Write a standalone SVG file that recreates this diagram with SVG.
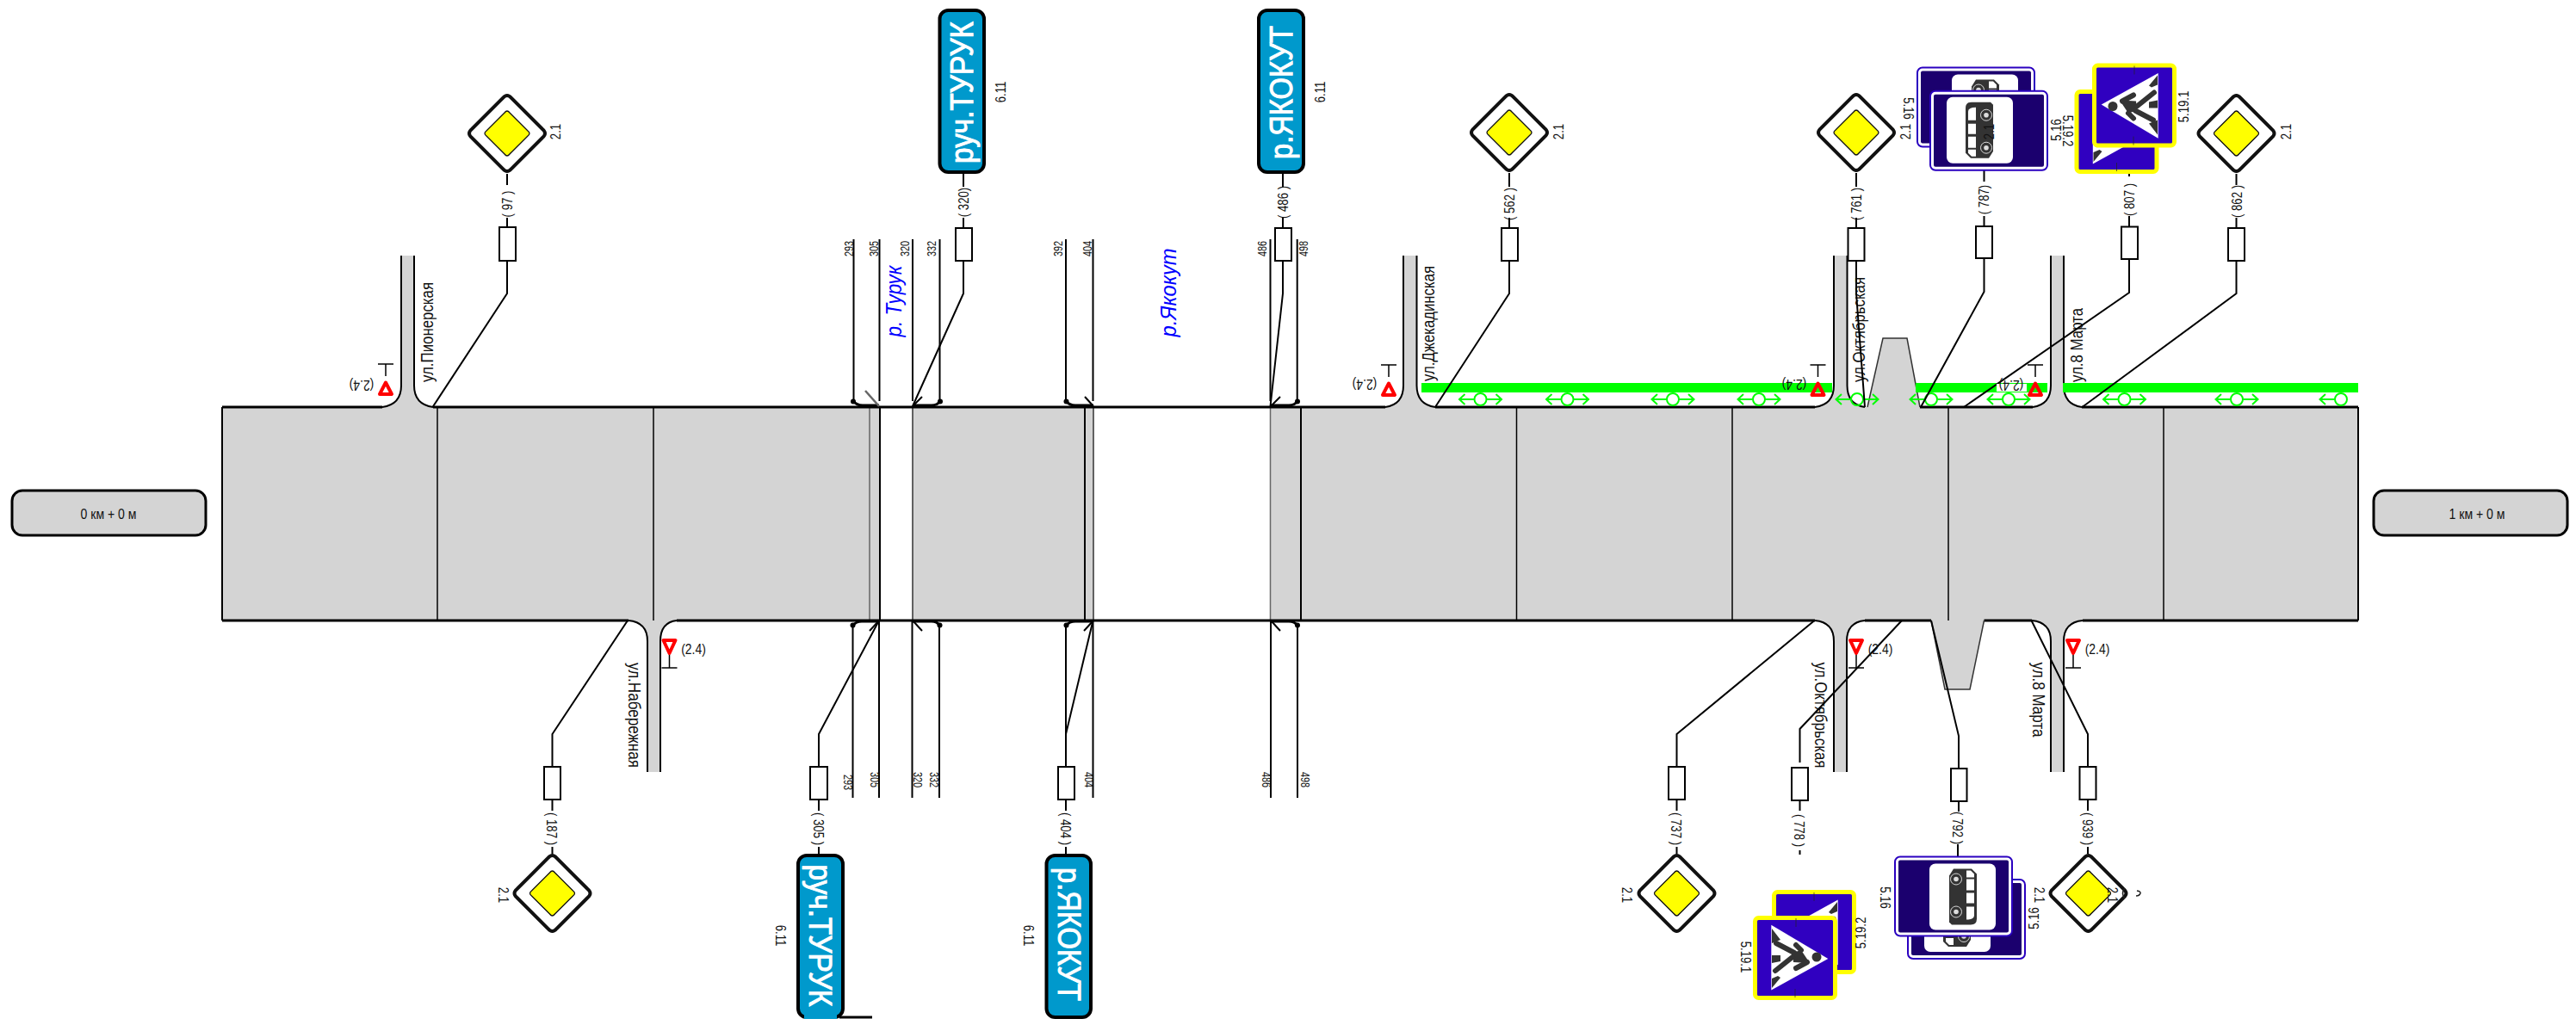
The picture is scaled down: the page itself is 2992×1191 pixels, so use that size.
<svg xmlns="http://www.w3.org/2000/svg" xmlns:xlink="http://www.w3.org/1999/xlink" width="2992" height="1191" viewBox="0 0 2992 1191">
<style>
text{font-family:"Liberation Sans",Arial,sans-serif;fill:#111;text-anchor:middle;dominant-baseline:central}
.s{font-size:16.500px}.n{font-size:14px}.g{font-size:16px}.st{font-size:20px}
.r{font-size:26px;font-style:italic;fill:#0000ff}
.b{font-size:37px;fill:#fff;stroke:#fff;stroke-width:1}
.e{font-size:16px}
.l{fill:none;stroke:#000;stroke-width:2}
.th{fill:none;stroke:#000;stroke-width:3}
.thin{fill:none;stroke:#000;stroke-width:1.5}
.box{fill:#fff;stroke:#000;stroke-width:2}
.road{fill:#d4d4d4}
.tri{fill:none;stroke:#f00;stroke-width:4;stroke-linejoin:round}
.gr{fill:none;stroke:#0f0;stroke-width:2}
.blue{fill:#0099cc;stroke:#000;stroke-width:4}
.end{fill:#d4d4d4;stroke:#000;stroke-width:3}
.dk{fill:#333}.dkl{fill:none;stroke:#333;stroke-width:6;stroke-linecap:round}
</style>
<defs>
<g id="main">
<path d="M-5,-41Q0,-47 5,-41L41,-5Q47,0 41,5L5,41Q0,47 -5,41L-41,5Q-47,0 -41,-5Z" fill="#fff" stroke="#111" stroke-width="4"/>
<path d="M-3,-24Q0,-28 3,-24L24,-3Q28,0 24,3L3,24Q0,28 -3,24L-24,3Q-28,0 -24,-3Z" fill="#ff0" stroke="#111" stroke-width="1.3"/>
</g>
<g id="bus">
<rect x="-68" y="-46" width="136" height="92" rx="6" fill="#fff" stroke="#2a00c0" stroke-width="2"/>
<rect x="-64" y="-42" width="128" height="84" rx="2" fill="#1b006e"/>
<rect x="-49" y="-39" width="77" height="77" rx="7" fill="#fff"/>
<path class="dk" d="M-27,-26Q-27,-33 -20,-33L2,-33L5,-30L5,24L0,32L-21,32L-27,26Z"/>
<path fill="#fff" d="M-24,-22Q-24,-27 -15,-27L-15,-12L-24,-12ZM-24,-8H-15V4H-24ZM-24,7H-15V20H-24ZM-24,22H-15V30H-20L-24,26Z"/>
<circle cx="-3" cy="-18" r="6.5" fill="#333" stroke="#fff" stroke-width=".8"/><circle cx="-3" cy="-18" r="2.8" fill="#ddd"/>
<circle cx="-3" cy="20" r="6.5" fill="#333" stroke="#fff" stroke-width=".8"/><circle cx="-3" cy="20" r="2.8" fill="#ddd"/>
</g>
<g id="ped">
<rect x="-46.5" y="-46.5" width="93" height="93" rx="4" fill="#3000c0" stroke="#ff0" stroke-width="5"/>
<path d="M-38.3,-1L27.7,-37.5V38.2Z" fill="#fff"/>
<path class="dk" d="M17,-23L27,-35V-24L20,-21ZM17,-4L27,-6V3L17,3ZM17,21L27,17V34Z"/>
<circle class="dk" cx="-25" cy="1" r="5.5"/>
<path class="dk" d="M-17,-6L2,-5L3,6L-7,9Z"/>
<path class="dkl" d="M-14,-5L-1,-12M3,1L23,-15M1,6L22,17M-7,9L-1,15"/>
<path d="M0,-46V-36M-1,36V46" stroke="#222" stroke-width=".7"/>
</g>
<g id="giveT"><path class="thin" d="M0,-14V-28M-9,-28H9"/><path class="tri" d="M0,-6.5L7,7L-7,7Z"/></g>
<g id="giveB"><path class="thin" d="M0,9V25M-9,25H9"/><path class="tri" d="M0,8L7,-7H-7Z"/></g>
<g id="ga"><circle r="7" class="gr"/><path class="gr" d="M-7,0H-24M-18,-6L-24.5,0L-18,6M7,0H24M18,-6L24.5,0L18,6"/></g>
</defs>

<g id="road">
<path class="road" d="M258,473H444Q466,470 466,448V297H481V448Q481,470 503,473H1022V721H786Q767,723 767,745V897H752V745Q752,723 730,721H258Z"/>
<path class="road" d="M1060,473H1270V721H1060Z"/>
<path class="road" d="M1475,473H1609Q1630,470 1630,448V297H1645.500V448Q1645.500,470 1667,473H2108Q2130,470 2130,448V297H2145.500V448Q2145.500,470 2169,473L2187,393H2215L2230,473H2361Q2382,470 2382,448V297H2397V448Q2397,470 2418,473H2739V721H2419Q2397,723 2397,745V897H2382V745Q2382,723 2360,721H2304.500L2288,801H2259L2243,721H2166Q2145,723 2145,745V897H2130V745Q2130,723 2108,721H1475Z"/>
<path class="thin" d="M508,473V721M759,473V721M1761.500,473V721M2012,473V721M2263,473V721M2513,473V721"/>
<path class="l" d="M1022,473V721M1260,473V721M1511,473V721M258,473V721M2739,473V721"/>
<path d="M1010,473V721M1475.500,473V721" fill="none" stroke="#666" stroke-width="1.5"/>
<path d="M1060,473V721M1270,473V721" fill="none" stroke="#333" stroke-width="1.5"/>
<path class="th" d="M258,473H444M503,473H1609M1667,473H2108M2230,473H2361M2418,473H2739M258,721H730M786,721H2108M2166,721H2243M2304.500,721H2360M2419,721H2739"/>
<path class="l" d="M444,473Q466,470 466,448V297M481,297V448Q481,470 503,473M1609,473Q1630,470 1630,448V297M1645.500,297V448Q1645.500,470 1667,473M2108,473Q2130,470 2130,448V297M2145.500,297V448Q2145.500,470 2166,473M2382,297V448Q2382,470 2361,473M2397,297V448Q2397,470 2418,473"/>
<path class="l" d="M730,721Q752,723 752,745V897M767,897V745Q767,723 786,721M2108,721Q2130,723 2130,745V897M2145,897V745Q2145,723 2166,721M2360,721Q2382,723 2382,745V897M2397,897V745Q2397,723 2419,721"/>
<path fill="none" stroke="#333" stroke-width="1.500" d="M2169,473L2187,393H2215L2230,473M2243,721L2259,801H2288L2304.500,721"/>
</g>

<g id="street-labels">
<text class="st" transform="translate(495.500,386) rotate(-90)" textLength="116" lengthAdjust="spacingAndGlyphs">ул.Пионерская</text>
<text class="st" transform="translate(1659,376) rotate(-90)" textLength="134" lengthAdjust="spacingAndGlyphs">ул.Джекадинская</text>
<text class="st" transform="translate(2159,383) rotate(-90)" textLength="122" lengthAdjust="spacingAndGlyphs">ул.Октябрьская</text>
<text class="st" transform="translate(2412,401) rotate(-90)" textLength="86" lengthAdjust="spacingAndGlyphs">ул.8 Марта</text>
<text class="st" transform="translate(736.500,831) rotate(90)" textLength="122" lengthAdjust="spacingAndGlyphs">ул.Набережная</text>
<text class="st" transform="translate(2114.500,831) rotate(90)" textLength="123" lengthAdjust="spacingAndGlyphs">ул.Октябрьская</text>
<text class="st" transform="translate(2368,813) rotate(90)" textLength="87" lengthAdjust="spacingAndGlyphs">ул.8 Марта</text>
<text class="r" transform="translate(1038,350) rotate(-90)" textLength="83" lengthAdjust="spacingAndGlyphs">р. Турук</text>
<text class="r" transform="translate(1357,340) rotate(-90)" textLength="103" lengthAdjust="spacingAndGlyphs">р.Якокут</text>
</g>

<g id="green-zone">
<path fill="#0f0" d="M1651,445H2128V456H1651ZM2225,445H2378V456H2225ZM2396,445H2739V456H2396Z"/>
<use xlink:href="#ga" href="#ga" x="1719.500" y="464"/><use xlink:href="#ga" href="#ga" x="1820.500" y="464"/><use xlink:href="#ga" href="#ga" x="1943" y="464"/><use xlink:href="#ga" href="#ga" x="2043" y="464"/><use xlink:href="#ga" href="#ga" x="2157" y="464"/><use xlink:href="#ga" href="#ga" x="2243" y="464"/><use xlink:href="#ga" href="#ga" x="2333" y="464"/><use xlink:href="#ga" href="#ga" x="2467.500" y="464"/><use xlink:href="#ga" href="#ga" x="2598" y="464"/>
<circle class="gr" cx="2719" cy="464" r="7"/><path class="gr" d="M2712,464H2695M2701,458L2694.500,464L2701,470"/>
</g>

<g id="bridges">
<path class="l" d="M991.500,278V466M1021.500,278V466M1060,278V466M1091.500,278V466M1238,278V466M1269.500,278V466M1475.500,278V466M1506.700,278V466"/>
<path class="l" d="M990.500,727V927M1021,721V927M1059.500,721V927M1091,727V927M1238,727V927M1269.500,721V927M1476,721V927M1507,727V927"/>
<path class="th" d="M991,466Q995,471 1002,471H1021M1060,471H1082Q1089,471 1092,466M1238,466Q1242,471 1249,471H1270M1476,471H1497Q1504,471 1507,466"/>
<path class="th" d="M990.500,727Q994,722 1001,722H1021M1060,722H1082Q1089,722 1091,727M1238,727Q1242,722 1249,722H1270M1476,722H1497Q1504,722 1507,727"/>
<g fill="#000"><circle cx="991" cy="466.500" r="3"/><circle cx="1092" cy="466.500" r="3"/><circle cx="1238.500" cy="466.500" r="3"/><circle cx="1507" cy="466.500" r="3"/><circle cx="990.500" cy="726.500" r="3"/><circle cx="1091.500" cy="726.500" r="3"/><circle cx="1238.500" cy="726.500" r="3"/><circle cx="1507" cy="726.500" r="3"/></g>
<path fill="none" stroke="#666" stroke-width="2.500" d="M1021,472L1005,454"/>
<path class="l" d="M1060,472L1071,461M1270,472L1260,461M1476,472L1487,461M1021,721L1010,733M1060,721L1071,733M1270,721L1259,733M1476,721L1487,733"/>
<text class="n" transform="translate(987,289) rotate(-90) scale(.78,1)">293</text><text class="n" transform="translate(1015.500,289) rotate(-90) scale(.78,1)">305</text><text class="n" transform="translate(1052,289) rotate(-90) scale(.78,1)">320</text><text class="n" transform="translate(1083,289) rotate(-90) scale(.78,1)">332</text><text class="n" transform="translate(1230,289) rotate(-90) scale(.78,1)">392</text><text class="n" transform="translate(1264,289) rotate(-90) scale(.78,1)">404</text><text class="n" transform="translate(1467,289) rotate(-90) scale(.78,1)">486</text><text class="n" transform="translate(1515,289) rotate(-90) scale(.78,1)">498</text>
<text class="n" transform="translate(984.500,909) rotate(90) scale(.78,1)">293</text><text class="n" transform="translate(1015,906) rotate(90) scale(.78,1)">305</text><text class="n" transform="translate(1065,906) rotate(90) scale(.78,1)">320</text><text class="n" transform="translate(1084,906) rotate(90) scale(.78,1)">332</text><text class="n" transform="translate(1233,908) rotate(90) scale(.78,1)">392</text><text class="n" transform="translate(1264,906) rotate(90) scale(.78,1)">404</text><text class="n" transform="translate(1470.500,906) rotate(90) scale(.78,1)">486</text><text class="n" transform="translate(1515.500,906) rotate(90) scale(.78,1)">498</text>
</g>

<g id="connectors">
<path class="l" d="M589,202V215M589,253V264M589,303V341L502.500,473"/>
<path class="l" d="M1119,200V217M1119,253V265M1119,303V341L1060,472"/>
<path class="l" d="M1490,200V217M1490,253V265M1490,303V341L1475.500,472"/>
<path class="l" d="M1753,201V217M1753,253V265M1753,303V341L1667,473"/>
<path class="l" d="M2156,201V217M2156,253V265M2156,303V341L2166,473"/>
<path class="l" d="M2304.500,197V211M2304.500,251V263M2304.500,300V339L2231,473"/>
<path class="l" d="M2473,200V205M2473,251V263M2473,301V340L2281,473"/>
<path class="l" d="M2597.500,202V215M2597.500,253V265M2597.500,303V341L2418.500,473"/>
<path class="l" d="M641.500,891V853L729,721M641.500,929V942M641.500,984V992"/>
<path class="l" d="M951,891V853L1021,721M951,929V942M951,984V993"/>
<path class="l" d="M1238,891V853L1269.500,721M1238,929V942M1238,984V993"/>
<path class="l" d="M1947.500,891V853L2107.500,721M1947.500,929V942M1947.500,984V992"/>
<path class="l" d="M2090.500,886V847L2209,721M2090.500,930V942M2090.500,988V993"/>
<path class="l" d="M2275,893V855L2243,721M2275,931V943M2274,981V996"/>
<path class="l" d="M2425,891V853L2359.500,721M2425,929V942M2425,984V992"/>
</g>

<g id="give-way-signs">
<g id="gw1"><use xlink:href="#giveT" href="#giveT" x="448" y="451"/><text class="g" transform="translate(420,448) rotate(180) scale(.87,1)">(2.4)</text></g>
<g id="gw2"><use xlink:href="#giveT" href="#giveT" x="1613" y="452"/><text class="g" transform="translate(1585,447) rotate(180) scale(.87,1)">(2.4)</text></g>
<g id="gw3"><use xlink:href="#giveT" href="#giveT" x="2111.500" y="452"/><text class="g" transform="translate(2084,447) rotate(180) scale(.87,1)">(2.4)</text></g>
<g id="gw4"><rect x="2319" y="446" width="35" height="9" fill="#fff"/><use xlink:href="#giveT" href="#giveT" x="2364" y="452"/><text class="g" transform="translate(2336,448) rotate(180) scale(.87,1)">(2.4)</text></g>
<g id="gw5"><use xlink:href="#giveB" href="#giveB" x="777.500" y="751"/><text class="g" transform="translate(805.500,754) scale(.87,1)">(2.4)</text></g>
<g id="gw6"><use xlink:href="#giveB" href="#giveB" x="2156" y="751"/><text class="g" transform="translate(2184,754) scale(.87,1)">(2.4)</text></g>
<g id="gw7"><use xlink:href="#giveB" href="#giveB" x="2408" y="751"/><text class="g" transform="translate(2436,754) scale(.87,1)">(2.4)</text></g>
</g>

<g id="sign-97"><rect class="box" x="580" y="264" width="19" height="39"/><text class="s" transform="translate(589,237) rotate(-90) scale(.8,1)">( 97 )</text><use xlink:href="#main" href="#main" x="589" y="155"/><text class="s" transform="translate(645,153) rotate(-90) scale(.8,1)">2.1</text></g>
<g id="sign-320"><rect class="box" x="1110" y="265" width="19" height="38"/><text class="s" transform="translate(1119,235) rotate(-90) scale(.8,1)">( 320)</text><rect class="blue" x="1091.500" y="12" width="51.500" height="188" rx="10"/><text class="b" transform="translate(1117,107.500) rotate(-90)" textLength="165" lengthAdjust="spacingAndGlyphs">руч.ТУРУК</text><text class="s" transform="translate(1161.500,107) rotate(-90) scale(.8,1)">6.11</text></g>
<g id="sign-486"><rect class="box" x="1481" y="265" width="19" height="38"/><text class="s" transform="translate(1490,235) rotate(-90) scale(.8,1)">( 486 )</text><rect class="blue" x="1462" y="12" width="52" height="188" rx="10"/><text class="b" transform="translate(1488,107.500) rotate(-90)" textLength="155" lengthAdjust="spacingAndGlyphs">р.ЯКОКУТ</text><text class="s" transform="translate(1532.500,107) rotate(-90) scale(.8,1)">6.11</text></g>
<g id="sign-562"><rect class="box" x="1744" y="265" width="19" height="38"/><text class="s" transform="translate(1753,237) rotate(-90) scale(.8,1)">( 562 )</text><use xlink:href="#main" href="#main" x="1753" y="154"/><text class="s" transform="translate(1810,153) rotate(-90) scale(.8,1)">2.1</text></g>
<g id="sign-761"><rect class="box" x="2146.500" y="265" width="19" height="38"/><text class="s" transform="translate(2156,237) rotate(-90) scale(.8,1)">( 761 )</text><use xlink:href="#main" href="#main" x="2156" y="154"/><text class="s" transform="translate(2212.500,153) rotate(-90) scale(.8,1)">2.1</text></g>
<g id="sign-787"><rect class="box" x="2295" y="263" width="19" height="37"/><text class="s" transform="translate(2304,232) rotate(-90) scale(.8,1)">( 787)</text>
<use xlink:href="#bus" href="#bus" transform="translate(2295,124.500) rotate(180)"/><use xlink:href="#bus" href="#bus" x="2310" y="151.700"/>
<text class="s" transform="translate(2217,126) rotate(90) scale(.8,1)">5.16</text><text class="s" transform="translate(2388,151) rotate(-90) scale(.8,1)">5.16</text><text class="s" transform="translate(2310,153) rotate(-90) scale(.8,1)">2.1</text></g>
<g id="sign-807"><rect class="box" x="2464" y="263.500" width="19" height="37.500"/><text class="s" transform="translate(2473,232) rotate(-90) scale(.8,1)">( 807 )</text>
<use xlink:href="#ped" href="#ped" transform="translate(2458.500,153) rotate(180)"/><use xlink:href="#ped" href="#ped" x="2479" y="122.500"/>
<text class="s" transform="translate(2402,152) rotate(90) scale(.8,1)">5.19.2</text><text class="s" transform="translate(2536,124) rotate(-90) scale(.8,1)">5.19.1</text></g>
<g id="sign-862"><rect class="box" x="2588" y="265" width="19" height="38"/><text class="s" transform="translate(2597.500,234) rotate(-90) scale(.8,1)">( 862 )</text><use xlink:href="#main" href="#main" x="2597.500" y="155"/><text class="s" transform="translate(2654.500,153) rotate(-90) scale(.8,1)">2.1</text></g>

<g id="sign-187"><rect class="box" x="632" y="891" width="19" height="38"/><text class="s" transform="translate(641.500,963) rotate(90) scale(.8,1)">( 187 )</text><use xlink:href="#main" href="#main" x="641.500" y="1038"/><text class="s" transform="translate(585,1040) rotate(90) scale(.8,1)">2.1</text></g>
<g id="sign-305"><rect class="box" x="941" y="891" width="20" height="38"/><text class="s" transform="translate(951,963) rotate(90) scale(.8,1)">( 305 )</text><rect class="blue" x="927" y="994" width="52" height="188" rx="10"/><path fill="#0099cc" d="M934,1176H972V1184H934Z"/><path class="th" d="M975,1182H1013"/><text class="b" transform="translate(952,1087) rotate(90)" textLength="165" lengthAdjust="spacingAndGlyphs">руч.ТУРУК</text><text class="s" transform="translate(907,1087) rotate(90) scale(.8,1)">6.11</text></g>
<g id="sign-404"><rect class="box" x="1229" y="891" width="19" height="38"/><text class="s" transform="translate(1238,963) rotate(90) scale(.8,1)">( 404 )</text><rect class="blue" x="1215.500" y="994" width="51.500" height="188" rx="10"/><text class="b" transform="translate(1241,1085.500) rotate(90)" textLength="155" lengthAdjust="spacingAndGlyphs">р.ЯКОКУТ</text><text class="s" transform="translate(1195,1087) rotate(90) scale(.8,1)">6.11</text></g>
<g id="sign-737"><rect class="box" x="1938" y="891" width="19" height="38"/><text class="s" transform="translate(1947.500,963) rotate(90) scale(.8,1)">( 737 )</text><use xlink:href="#main" href="#main" x="1947.500" y="1038"/><text class="s" transform="translate(1890.500,1040) rotate(90) scale(.8,1)">2.1</text></g>
<g id="sign-778"><rect class="box" x="2081" y="892" width="19" height="38"/><text class="s" transform="translate(2090.500,965) rotate(90) scale(.8,1)">( 778 )</text>
<use xlink:href="#ped" href="#ped" x="2107" y="1083"/><use xlink:href="#ped" href="#ped" transform="translate(2085,1113) rotate(180)"/>
<text class="s" transform="translate(2028,1112) rotate(90) scale(.8,1)">5.19.1</text><text class="s" transform="translate(2161,1084) rotate(-90) scale(.8,1)">5.19.2</text></g>
<g id="sign-792"><rect class="box" x="2266" y="893" width="18.500" height="38"/><text class="s" transform="translate(2274.500,962) rotate(90) scale(.8,1)">( 792 )</text>
<use xlink:href="#bus" href="#bus" x="2284" y="1068"/><use xlink:href="#bus" href="#bus" transform="translate(2269,1041.500) rotate(180)"/>
<text class="s" transform="translate(2190.500,1043) rotate(90) scale(.8,1)">5.16</text><text class="s" transform="translate(2362,1067) rotate(-90) scale(.8,1)">5.16</text></g>
<g id="sign-939"><rect class="box" x="2415.500" y="891" width="19" height="38"/><text class="s" transform="translate(2425,963) rotate(90) scale(.8,1)">( 939 )</text><use xlink:href="#main" href="#main" x="2425.500" y="1038"/><text class="s" transform="translate(2369,1040) rotate(90) scale(.8,1)">2.1</text><text class="s" transform="translate(2454,1040) rotate(90) scale(.8,1)">2.1</text>
<path fill="none" stroke="#222" stroke-width="1.500" d="M2468,1032Q2463,1038 2468,1044M2482,1035Q2487,1036 2486,1038Q2485,1041 2481,1041"/></g>

<g id="start"><rect class="end" x="14" y="570" width="225" height="52" rx="12"/><text class="e" x="126" y="597" textLength="65" lengthAdjust="spacingAndGlyphs">0 км + 0 м</text></g>
<g id="finish"><rect class="end" x="2757" y="570" width="225" height="52" rx="12"/><text class="e" x="2877" y="597" textLength="65" lengthAdjust="spacingAndGlyphs">1 км + 0 м</text></g>
</svg>
